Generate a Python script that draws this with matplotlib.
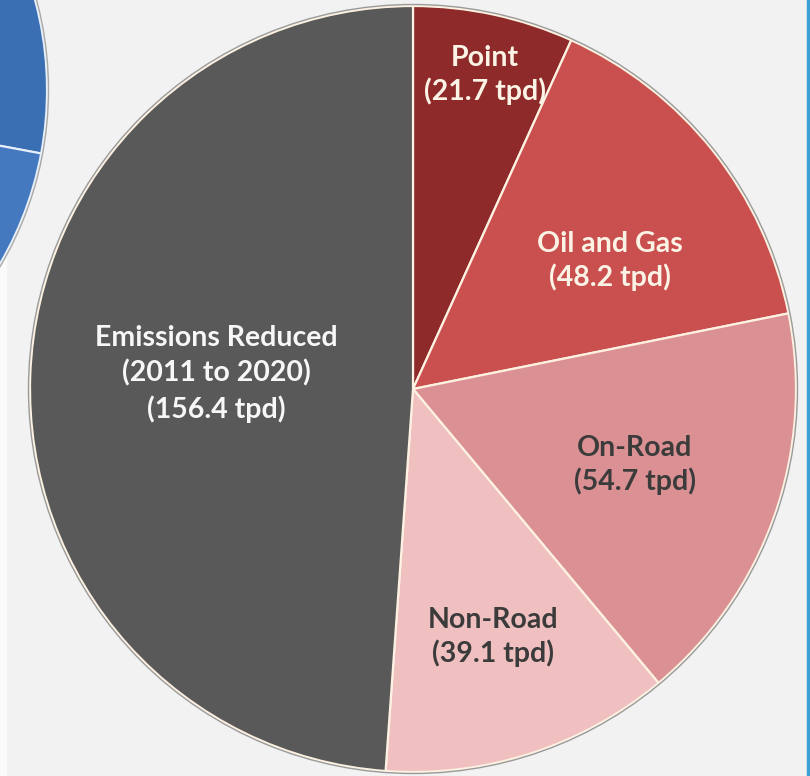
import matplotlib
matplotlib.use("Agg")
import matplotlib.pyplot as plt
from matplotlib.patches import Circle

# ---- data ----
categories = ["Point", "Oil and Gas", "On-Road", "Non-Road", "Emissions Reduced"]
values = [21.7, 48.2, 54.7, 39.1, 156.4]
labels = ["Point\n(21.7 tpd)", "Oil and Gas\n(48.2 tpd)", "On-Road\n(54.7 tpd)",
          "Non-Road\n(39.1 tpd)", "Emissions Reduced\n(2011 to 2020)\n(156.4 tpd)"]
colors = ["#8e2a29", "#c9504e", "#db9193", "#f0bfc0", "#595959"]
label_colors = ["#fbf3e6", "#fbf3e6", "#3b3b3b", "#3b3b3b", "#f7f7f7"]

# partial neighbouring (blue) chart, visible only at the left edge
blue_values = [1, 1]
blue_colors = ["#3b6fb4", "#4479c0"]

W, H = 810, 776
fig = plt.figure(figsize=(W / 100, H / 100), dpi=100)
fig.patch.set_facecolor("#f2f2f2")
ax = fig.add_axes([0, 0, 1, 1])
ax.set_xlim(0, W)
ax.set_ylim(0, H)
ax.set_aspect("equal")
ax.axis("off")

# white strip at left edge & blue border at right
ax.axvspan(0, 6, color="#fbfbfb", zorder=0)
ax.axvspan(807, 810, color="#3ba0d3", zorder=0)

# blue neighbouring pie
bcx, bcy, br = -298, 686, 345
bw, _ = ax.pie(blue_values, colors=blue_colors, startangle=-10.6, counterclock=True,
               center=(bcx, bcy), radius=br, frame=True,
               wedgeprops=dict(edgecolor="#e8f0fa", linewidth=1.5))
ax.add_patch(Circle((bcx, bcy), br + 1.5, fill=False, edgecolor="#a9a9a9", lw=1.0, zorder=3))

# main pie
cx, cy, r = 413, 387, 383
wedges, _ = ax.pie(values, colors=colors, startangle=90, counterclock=False,
                   center=(cx, cy), radius=r, frame=True,
                   wedgeprops=dict(edgecolor="#fdf1e2", linewidth=1.6))
ax.add_patch(Circle((cx, cy), r + 1.5, fill=False, edgecolor="#9a9a9a", lw=1.0, zorder=3))

ax.set_xlim(0, W)
ax.set_ylim(0, H)
ax.axis("off")

label_pos = [(485, H - 75), (610, H - 261), (635, H - 465), (493, H - 637), (216, H - 374)]
label_spacing = [1.28, 1.3, 1.3, 1.3, 1.4]
for lab, (x, y), c, ls in zip(labels, label_pos, label_colors, label_spacing):
    ax.text(x, y, lab, ha="center", va="center", color=c, fontsize=20.5,
            fontweight="bold", family=["Lato", "DejaVu Sans"], linespacing=ls, zorder=5)

fig.savefig("out.png", dpi=100, facecolor=fig.get_facecolor())
